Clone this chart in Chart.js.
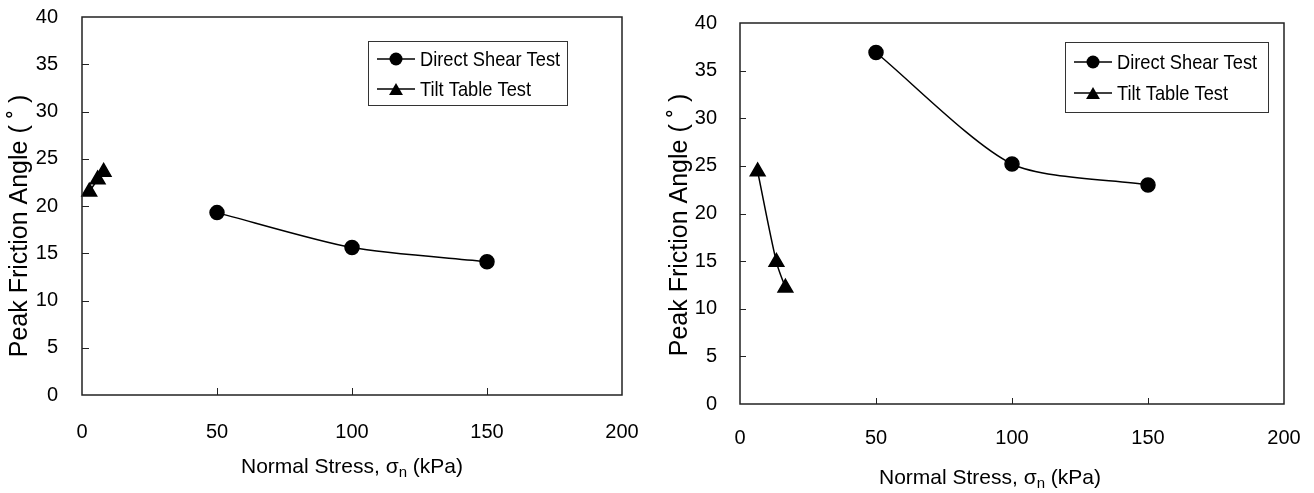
<!DOCTYPE html>
<html>
<head>
<meta charset="utf-8">
<script src="https://cdn.jsdelivr.net/npm/chart.js@4/dist/chart.umd.min.js"></script>
<style>
  html, body { margin: 0; padding: 0; background: #fff; }
  #wrap { position: relative; width: 1314px; height: 493px; }
  canvas { position: absolute; top: 0; }
</style>
</head>
<body>
<div id="wrap">
  <canvas id="left" width="657" height="493" style="left:0"></canvas>
  <canvas id="right" width="657" height="493" style="left:657px"></canvas>
</div>
<script>
// data
const xTicks = [0, 50, 100, 150, 200];
const yTicks = [0, 5, 10, 15, 20, 25, 30, 35, 40];
const seriesNames = ['Direct Shear Test', 'Tilt Table Test'];

const leftShearStress = [50, 100, 150];
const leftShearAngle = [19.3, 15.6, 14.1];
const leftTiltStress = [2.7, 5.8, 8.0];
const leftTiltAngle = [21.5, 22.8, 23.6];

const rightShearStress = [50, 100, 150];
const rightShearAngle = [36.9, 25.2, 23.0];
const rightTiltStress = [6.5, 13.4, 16.7];
const rightTiltAngle = [24.4, 14.9, 12.2];

const FONT = '"Liberation Sans", Arial, sans-serif';
const INK = '#000';
const AXIS = '#222';

function pts(xs, ys) {
  return xs.map((x, i) => ({ x: x, y: ys[i] }));
}

// box around plot + short ticks pointing inwards
const framePlugin = {
  id: 'frame',
  afterDatasetsDraw(chart, args, o) {
    const { ctx, chartArea: a, scales } = chart;
    ctx.save();
    ctx.strokeStyle = AXIS;
    ctx.lineWidth = 1.5;
    ctx.strokeRect(a.left, a.top, a.right - a.left, a.bottom - a.top);
    ctx.lineWidth = 1;
    ctx.beginPath();
    xTicks.slice(1, -1).forEach(v => {
      const px = Math.round(scales.x.getPixelForValue(v)) + 0.5;
      ctx.moveTo(px, a.bottom);
      ctx.lineTo(px, a.bottom - o.tick);
    });
    yTicks.slice(1, -1).forEach(v => {
      const py = Math.round(scales.y.getPixelForValue(v)) + 0.5;
      ctx.moveTo(a.left, py);
      ctx.lineTo(a.left + o.tick, py);
    });
    ctx.stroke();
    ctx.restore();
  }
};

// axis titles (x title has a subscript n)
const titlesPlugin = {
  id: 'titles',
  afterDraw(chart, args, o) {
    const ctx = chart.ctx;
    ctx.save();
    ctx.fillStyle = INK;
    ctx.textBaseline = 'middle';

    ctx.save();
    ctx.translate(o.yx, o.yy);
    ctx.rotate(-Math.PI / 2);
    ctx.textAlign = 'center';
    ctx.font = '25px ' + FONT;
    ctx.fillText('Peak Friction Angle ( ˚ )', 0, 0);
    ctx.restore();

    const main = '21px ' + FONT, sub = '15px ' + FONT;
    const p1 = 'Normal Stress, σ', p2 = 'n', p3 = ' (kPa)';
    ctx.font = main;
    const w1 = ctx.measureText(p1).width, w3 = ctx.measureText(p3).width;
    ctx.font = sub;
    const w2 = ctx.measureText(p2).width;
    let x = o.xx - (w1 + w2 + w3) / 2;
    ctx.textAlign = 'left';
    ctx.font = main;
    ctx.fillText(p1, x, o.xy);
    x += w1;
    ctx.font = sub;
    ctx.fillText(p2, x, o.xy + 6);
    x += w2;
    ctx.font = main;
    ctx.fillText(p3, x, o.xy);
    ctx.restore();
  }
};

// boxed legend like the original
const boxLegendPlugin = {
  id: 'boxLegend',
  afterDraw(chart, args, o) {
    const ctx = chart.ctx;
    ctx.save();
    ctx.strokeStyle = '#333';
    ctx.lineWidth = 1;
    ctx.strokeRect(o.x + 0.5, o.y + 0.5, o.w, o.h);
    chart.data.datasets.forEach((ds, i) => {
      const cy = o.y + o.rows[i];
      ctx.strokeStyle = INK;
      ctx.lineWidth = 1.5;
      ctx.beginPath();
      ctx.moveTo(o.x + 9, cy);
      ctx.lineTo(o.x + 47, cy);
      ctx.stroke();
      ctx.fillStyle = INK;
      Chart.helpers.drawPoint(ctx, {
        pointStyle: ds.pointStyle,
        radius: ds.pointStyle === 'circle' ? 6.5 : 8,
        borderWidth: 0
      }, o.x + 28, cy + (ds.pointStyle === 'circle' ? 0 : 2));
      ctx.save();
      ctx.translate(o.x + 52, cy);
      ctx.scale(0.87, 1);
      ctx.font = '21px ' + FONT;
      ctx.textBaseline = 'middle';
      ctx.fillText(ds.label, 0, 1);
      ctx.restore();
    });
    ctx.restore();
  }
};

function makeChart(id, shear, tilt, lay) {
  return new Chart(document.getElementById(id), {
    type: 'line',
    data: {
      datasets: [
        {
          label: seriesNames[0],
          data: shear,
          borderColor: INK,
          backgroundColor: INK,
          borderWidth: 1.5,
          pointStyle: 'circle',
          pointRadius: 7,
          tension: 0.25,
          clip: false
        },
        {
          label: seriesNames[1],
          data: tilt,
          borderColor: INK,
          backgroundColor: INK,
          borderWidth: 1.5,
          pointStyle: 'triangle',
          pointRadius: 8.5,
          tension: 0.3,
          clip: false
        }
      ]
    },
    options: {
      responsive: false,
      animation: false,
      layout: { padding: { top: lay.top, right: lay.right, left: 0, bottom: 0 } },
      scales: {
        x: {
          type: 'linear',
          min: xTicks[0],
          max: xTicks[xTicks.length - 1],
          afterBuildTicks: s => { s.ticks = xTicks.map(v => ({ value: v })); },
          afterFit: s => { s.height = lay.xh; s.paddingLeft = 0; s.paddingRight = 0; },
          grid: { display: false, drawTicks: false },
          border: { display: false },
          ticks: { color: INK, font: { family: FONT, size: 20 }, padding: lay.xpad, maxRotation: 0 }
        },
        y: {
          type: 'linear',
          min: yTicks[0],
          max: yTicks[yTicks.length - 1],
          afterBuildTicks: s => { s.ticks = yTicks.map(v => ({ value: v })); },
          afterFit: s => { s.width = lay.yw; s.paddingTop = 0; s.paddingBottom = 0; },
          grid: { display: false, drawTicks: false },
          border: { display: false },
          ticks: { color: INK, font: { family: FONT, size: 20 }, padding: lay.ypad }
        }
      },
      plugins: {
        legend: { display: false },
        tooltip: { enabled: false },
        frame: { tick: lay.tick },
        titles: lay.titles,
        boxLegend: lay.legend
      }
    },
    plugins: [framePlugin, titlesPlugin, boxLegendPlugin]
  });
}

makeChart('left', pts(leftShearStress, leftShearAngle), pts(leftTiltStress, leftTiltAngle), {
  top: 17, right: 35, xh: 98, yw: 82, xpad: 25, ypad: 24, tick: 7,
  titles: { yx: 20, yy: 226, xx: 352, xy: 467 },
  legend: { x: 368, y: 41, w: 199, h: 64, rows: [18, 48] }
});

makeChart('right', pts(rightShearStress, rightShearAngle), pts(rightTiltStress, rightTiltAngle), {
  top: 23, right: 30, xh: 89, yw: 83, xpad: 22, ypad: 23, tick: 6,
  titles: { yx: 23, yy: 225, xx: 333, xy: 478 },
  legend: { x: 408, y: 42, w: 203, h: 70, rows: [20, 51] }
});
</script>
</body>
</html>
